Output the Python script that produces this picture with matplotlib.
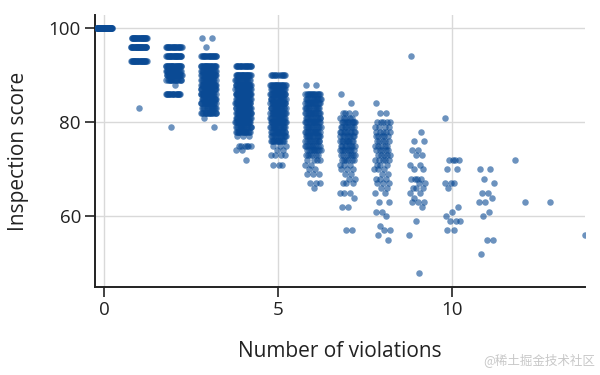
import matplotlib
matplotlib.use('Agg')
import matplotlib.pyplot as plt
import numpy as np

plt.rcParams['font.family'] = ['Open Sans', 'DejaVu Sans']

# number of violations, and for each one the scores seen and how many inspections got that score
violations = [0, 1, 2, 3, 4, 5, 6, 7, 8, 9, 10, 11, 12, 13, 14]
score_levels = [
    [100],
    [98, 96, 93, 83],
    [96, 94, 92, 91, 90, 89, 88, 86, 79],
    [98, 96, 94, 92, 91, 90, 89, 88, 87, 86, 85, 84, 83, 82, 81, 79],
    [92, 90, 89, 88, 87, 86, 85, 84, 83, 82, 81, 80, 79, 78, 77, 75, 74, 72],
    [90, 88, 87, 86, 85, 84, 83, 82, 81, 80, 79, 78, 77, 76, 75, 74, 73, 71],
    [88, 86, 85, 84, 83, 82, 81, 80, 79, 78, 77, 76, 75, 74, 73, 72, 71, 70, 69, 67, 66],
    [86, 84, 82, 81, 80, 79, 78, 77, 76, 75, 74, 73, 72, 71, 70, 69, 68, 67, 65, 64, 62, 57],
    [84, 82, 80, 79, 78, 77, 76, 75, 74, 73, 72, 71, 70, 69, 68, 67, 66, 65, 63, 61, 60, 58, 57, 56, 55],
    [94, 78, 76, 74, 73, 71, 70, 68, 67, 66, 65, 64, 63, 62, 59, 56, 48],
    [81, 72, 70, 67, 66, 62, 61, 60, 59, 57],
    [70, 68, 67, 65, 64, 63, 61, 60, 55, 52],
    [72, 63],
    [63],
    [56],
]
level_counts = [
    [50],
    [28, 32, 28, 1],
    [22, 25, 25, 18, 22, 15, 1, 18, 1],
    [2, 1, 20, 22, 16, 20, 16, 20, 18, 20, 16, 18, 12, 16, 1, 1],
    [20, 22, 15, 22, 18, 22, 18, 22, 18, 22, 18, 18, 15, 15, 3, 6, 2, 1],
    [12, 18, 15, 18, 15, 18, 15, 18, 15, 18, 15, 14, 12, 12, 3, 2, 4, 3],
    [2, 14, 12, 14, 12, 14, 12, 14, 12, 14, 12, 11, 10, 9, 6, 4, 2, 2, 3, 3, 1],
    [1, 1, 4, 5, 10, 8, 9, 8, 9, 8, 8, 7, 6, 3, 3, 2, 2, 3, 3, 1, 2, 2],
    [1, 2, 5, 4, 5, 5, 5, 5, 5, 5, 5, 3, 3, 2, 3, 3, 2, 2, 2, 2, 1, 1, 2, 1, 1],
    [1, 1, 2, 2, 2, 2, 2, 4, 2, 3, 2, 1, 3, 1, 1, 1, 1],
    [1, 4, 2, 3, 1, 1, 1, 1, 3, 2],
    [2, 1, 1, 2, 1, 2, 1, 1, 2, 1],
    [1, 1],
    [1],
    [1],
]

# expand to one row per inspection, spread sideways (strip plot style)
xs, ys = [], []
for v, levels, counts in zip(violations, score_levels, level_counts):
    k = 0
    for s, n in zip(levels, counts):
        for _ in range(n):
            frac = (k * 0.6180339887 + 0.1) % 1.0
            xs.append(v + (frac - 0.5) * 0.46)
            ys.append(s)
            k += 1

fig = plt.figure(figsize=(6, 3.75), dpi=100)
ax = fig.add_axes([0.158, 0.235, 0.817, 0.725])

ax.scatter(xs, ys, s=22, color='#0a4a94', alpha=0.6, linewidths=0, zorder=3)

ax.set_xlim(-0.27, 13.83)
ax.set_ylim(45, 102.8)
ax.set_xticks([0, 5, 10])
ax.set_yticks([60, 80, 100])
ax.grid(True, color='#d9d9d9', linewidth=1, zorder=0)
ax.set_axisbelow(True)

for side in ['top', 'right']:
    ax.spines[side].set_visible(False)
for side in ['left', 'bottom']:
    ax.spines[side].set_linewidth(1.4)
    ax.spines[side].set_color('#222222')
ax.tick_params(axis='both', length=7, width=1.2, color='#222222',
               labelsize=13.5, labelcolor='#222222', pad=3)

ax.set_xlabel('Number of violations', fontsize=15, color='#222222', labelpad=16)
ax.set_ylabel('Inspection score', fontsize=15, color='#222222', labelpad=14)

fig.text(0.992, 0.02, '@稀土掘金技术社区', ha='right', va='bottom', fontsize=9,
         color='#c8c8c8', family=['Noto Sans CJK SC', 'DejaVu Sans'])

fig.savefig('out.png', dpi=100)
